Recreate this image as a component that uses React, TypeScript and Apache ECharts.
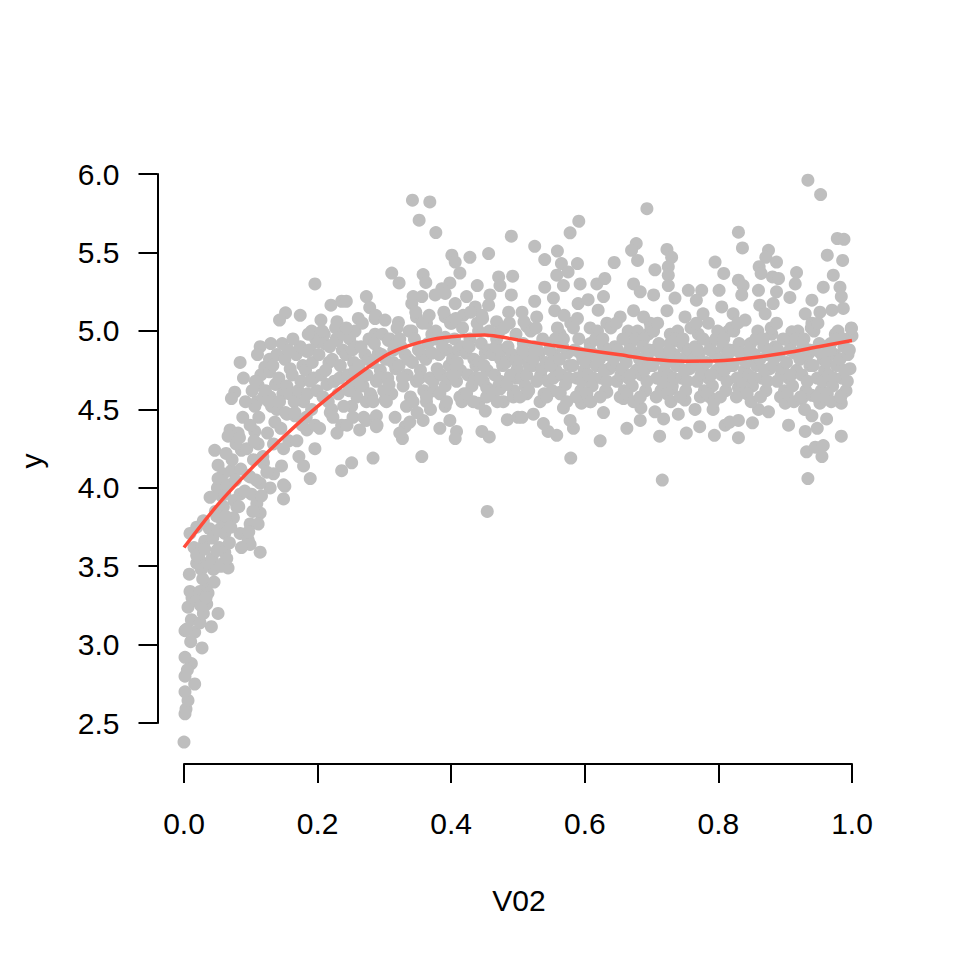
import React, { useEffect, useRef } from 'react';
import * as echarts from 'echarts';

// ---- data ----
const leftTail: number[][] = [
  [0.000,2.38],[0.0015,2.56],[0.003,2.59],[0.006,2.645],[0.0015,2.70],[0.016,2.75],[0.0015,2.80],[0.011,2.88],
  [0.0015,2.92],[0.027,2.98],[0.0015,3.09],[0.016,3.08],[0.041,3.115],[0.051,3.20],[0.006,3.24],[0.011,3.16],
  [0.024,3.14],[0.029,3.20],[0.034,3.26],[0.009,3.34],[0.024,3.34],[0.034,3.38],[0.036,3.33],[0.026,3.48],
  [0.044,3.48],[0.059,3.52],[0.066,3.49],[0.019,3.52],
  [0.004,3.10],[0.012,3.30],[0.008,3.45],[0.015,3.62],[0.018,3.28],[0.010,3.02],[0.005,2.84],
  [0.022,3.56],[0.028,3.42],[0.031,3.66],[0.036,3.52],[0.025,3.25],[0.038,3.74],[0.033,3.30],[0.027,3.62],
  [0.042,3.55],[0.047,3.85],[0.053,3.62],[0.056,3.95],[0.045,3.40],[0.058,3.78],[0.050,4.00],[0.055,3.50],[0.043,3.68],
  [0.039,3.94],[0.029,3.79],[0.019,3.75],[0.051,3.73],[0.019,3.57],[0.031,3.61],[0.049,3.60],[0.009,3.71],
  [0.046,4.24],[0.051,4.145],[0.059,4.09],[0.051,4.06],[0.059,3.88],[0.049,3.82],[0.061,3.96],[0.061,3.71],[0.061,3.59],
];

const rising: number[][] = [
  [0.084,4.80],[0.089,4.70],[0.076,4.61],[0.071,4.57],[0.111,4.655],[0.109,4.55],[0.106,4.52],[0.121,4.77],
  [0.129,4.58],[0.139,4.50],[0.154,4.47],[0.179,4.55],[0.166,4.46],[0.184,4.37],[0.196,4.25],[0.221,4.50],
  [0.229,4.35],[0.236,4.11],[0.179,4.14],[0.189,4.06],[0.149,4.25],[0.146,4.14],[0.134,4.09],[0.129,4.00],
  [0.151,4.01],[0.149,3.93],[0.069,4.37],[0.066,4.33],[0.081,4.35],[0.106,4.36],[0.111,4.28],[0.086,4.24],
  [0.071,4.11],[0.104,4.18],[0.119,4.16],[0.099,4.07],[0.114,4.03],[0.084,3.96],[0.101,3.96],[0.079,3.88],
  [0.109,3.90],[0.114,3.84],[0.074,3.81],[0.099,3.77],[0.111,3.77],[0.084,3.71],[0.096,3.67],[0.099,3.64],[0.114,3.59],
  [0.196,5.30],[0.220,5.165],[0.236,5.19],[0.152,5.116],[0.143,5.07],[0.174,5.10],[0.205,5.07],[0.229,5.06],
  [0.191,5.00],[0.210,4.98],[0.114,4.90],[0.128,4.82],[0.184,4.87],[0.199,4.93],[0.229,4.94],
  [0.273,5.22],[0.243,5.19],[0.278,5.15],[0.261,5.08],[0.286,5.08],[0.256,5.00],[0.286,4.98],
  [0.283,4.19],[0.251,4.16],[0.263,4.37],[0.253,4.45],[0.273,4.43],[0.288,4.39],[0.288,4.46],[0.281,4.58],[0.251,4.52],[0.256,4.61],
  [0.062,3.82],[0.065,4.02],[0.068,3.65],[0.072,4.18],[0.075,3.92],[0.078,4.28],[0.064,3.55],[0.070,3.75],[0.077,4.05],[0.063,4.22],
  [0.082,3.88],[0.085,4.12],[0.088,4.45],[0.091,3.98],[0.094,4.25],[0.097,3.72],[0.099,4.40],[0.086,3.62],[0.092,4.55],[0.096,4.08],[0.083,4.32],
  [0.102,4.62],[0.105,4.30],[0.108,4.05],[0.112,4.45],[0.115,4.72],[0.118,4.20],[0.103,3.85],[0.110,4.85],[0.116,3.95],[0.119,4.58],[0.107,4.68],
  [0.122,4.62],[0.125,4.35],[0.128,4.74],[0.131,4.52],[0.134,4.28],[0.137,4.66],[0.139,4.85],[0.124,4.10],[0.130,4.92],[0.136,4.42],[0.127,4.55],[0.133,4.78],
  [0.142,4.70],[0.145,4.38],[0.148,4.60],[0.151,4.82],[0.154,4.65],[0.157,4.30],[0.159,4.76],[0.143,4.55],[0.147,4.92],[0.152,4.48],[0.156,4.88],[0.149,4.02],[0.158,4.60],
  [0.162,4.72],[0.165,4.55],[0.168,4.85],[0.171,4.62],[0.174,4.90],[0.177,4.40],[0.163,4.95],[0.169,4.30],[0.175,4.68],[0.178,4.78],[0.166,4.48],[0.172,4.20],
  [0.182,4.75],[0.185,4.60],[0.188,4.88],[0.191,4.50],[0.194,4.70],[0.197,4.95],[0.199,4.62],[0.183,4.45],[0.186,4.98],[0.192,4.80],[0.196,4.40],[0.189,4.68],
  [0.202,4.85],[0.205,4.72],[0.208,4.58],[0.211,4.92],[0.214,4.66],[0.217,4.80],[0.219,4.48],[0.203,4.38],[0.207,5.00],[0.212,4.75],[0.216,4.55],[0.218,4.90],
  [0.222,4.82],[0.225,4.68],[0.228,4.95],[0.231,4.60],[0.234,4.78],[0.237,4.88],[0.239,4.52],[0.223,4.45],[0.227,5.02],[0.233,4.70],[0.236,4.40],[0.238,4.98],
  [0.242,4.85],[0.245,4.72],[0.248,4.95],[0.251,4.66],[0.254,4.80],[0.257,4.90],[0.259,4.58],[0.243,5.02],[0.247,4.62],[0.252,4.88],[0.256,4.75],[0.244,4.40],
  [0.262,4.78],[0.265,4.90],[0.268,4.65],[0.271,4.85],[0.274,4.72],[0.277,4.95],[0.279,4.60],[0.263,4.70],[0.267,5.05],[0.273,4.55],[0.276,4.82],[0.269,4.45],
  [0.282,4.80],[0.285,4.92],[0.288,4.68],[0.291,4.86],[0.294,4.75],[0.297,4.98],[0.299,4.62],[0.283,4.55],[0.287,5.10],[0.292,4.70],[0.296,4.85],[0.289,4.40],
];

const middle: number[][] = [
  [0.342,5.834],[0.368,5.823],[0.352,5.707],[0.377,5.628],[0.490,5.605],[0.401,5.484],[0.406,5.44],[0.428,5.47],
  [0.456,5.494],[0.413,5.37],[0.311,5.37],[0.322,5.307],[0.358,5.36],[0.362,5.31],[0.398,5.307],[0.386,5.27],
  [0.439,5.29],[0.471,5.345],[0.473,5.29],[0.492,5.35],[0.490,5.23],[0.343,5.22],[0.356,5.22],[0.341,5.175],
  [0.376,5.23],[0.391,5.24],[0.406,5.175],[0.423,5.22],[0.458,5.23],[0.436,5.154],[0.456,5.165],[0.418,5.10],
  [0.391,5.09],[0.401,5.05],[0.321,5.055],[0.348,5.09],[0.363,5.05],[0.446,5.10],[0.468,5.06],[0.486,5.12],
  [0.301,5.07],[0.306,4.94],[0.341,5.00],[0.371,4.98],[0.391,4.96],[0.441,5.00],[0.471,4.99],
  [0.454,3.85],[0.356,4.20],[0.327,4.315],[0.331,4.39],[0.323,4.35],[0.358,4.43],[0.383,4.38],[0.398,4.43],
  [0.408,4.36],[0.406,4.315],[0.446,4.36],[0.457,4.325],[0.484,4.435],[0.500,4.45],[0.478,4.55],[0.451,4.49],
  [0.441,4.54],[0.453,4.64],[0.473,4.63],[0.493,4.60],[0.498,4.70],[0.363,4.55],[0.391,4.52],[0.416,4.55],[0.301,4.56],
  [0.591,5.70],[0.578,5.626],[0.525,5.54],[0.559,5.51],[0.540,5.456],[0.565,5.43],[0.589,5.43],[0.558,5.356],
  [0.575,5.377],[0.568,5.29],[0.593,5.30],[0.540,5.28],[0.525,5.19],[0.506,5.12],[0.553,5.21],[0.590,5.175],
  [0.528,5.09],[0.555,5.13],[0.513,5.03],[0.563,4.98],
  [0.579,4.19],[0.558,4.335],[0.545,4.36],[0.583,4.38],[0.578,4.43],[0.568,4.51],[0.538,4.41],[0.523,4.47],
  [0.506,4.45],[0.595,4.54],[0.513,4.60],[0.563,4.61],
  [0.302,4.82],[0.305,4.70],[0.308,4.95],[0.311,4.60],[0.314,4.88],[0.317,4.76],[0.319,5.02],[0.303,4.55],[0.307,4.66],[0.313,4.80],[0.316,4.45],[0.318,4.92],
  [0.322,4.78],[0.325,4.90],[0.328,4.65],[0.331,4.85],[0.334,4.72],[0.337,5.00],[0.339,4.58],[0.323,4.95],[0.327,4.70],[0.333,4.52],[0.336,4.82],[0.338,4.42],
  [0.342,4.80],[0.345,4.95],[0.348,4.68],[0.351,4.88],[0.354,4.75],[0.357,5.05],[0.359,4.62],[0.343,4.55],[0.347,5.12],[0.353,4.70],[0.356,4.85],[0.349,4.48],
  [0.362,4.82],[0.365,4.92],[0.368,4.70],[0.371,4.86],[0.374,4.62],[0.377,5.00],[0.379,4.76],[0.363,4.58],[0.367,5.10],[0.373,4.68],[0.376,4.95],[0.369,4.50],
  [0.382,4.85],[0.385,4.72],[0.388,4.95],[0.391,4.65],[0.394,4.88],[0.397,4.78],[0.399,5.05],[0.383,4.60],[0.387,4.90],[0.393,4.55],[0.396,4.70],[0.389,5.12],
  [0.402,4.82],[0.405,4.95],[0.408,4.68],[0.411,4.88],[0.414,4.75],[0.417,5.02],[0.419,4.60],[0.403,4.72],[0.407,5.08],[0.413,4.58],[0.416,4.90],[0.409,4.80],
  [0.422,4.86],[0.425,4.72],[0.428,4.95],[0.431,4.65],[0.434,4.82],[0.437,4.78],[0.439,5.05],[0.423,4.60],[0.427,4.90],[0.433,4.55],[0.436,4.70],[0.429,5.12],
  [0.442,4.80],[0.445,4.92],[0.448,4.68],[0.451,4.86],[0.454,4.75],[0.457,5.00],[0.459,4.62],[0.443,4.70],[0.447,5.08],[0.453,4.58],[0.456,4.88],[0.449,4.78],
  [0.462,4.85],[0.465,4.72],[0.468,4.95],[0.471,4.65],[0.474,4.82],[0.477,4.78],[0.479,5.02],[0.463,4.60],[0.467,4.90],[0.473,4.68],[0.476,4.88],[0.469,4.55],
  [0.482,4.80],[0.485,4.90],[0.488,4.70],[0.491,4.85],[0.494,4.62],[0.497,4.98],[0.499,4.76],[0.483,4.66],[0.487,5.05],[0.493,4.58],[0.496,4.82],[0.489,4.72],
  [0.502,4.82],[0.505,4.70],[0.508,4.92],[0.511,4.65],[0.514,4.85],[0.517,4.78],[0.519,5.00],[0.503,4.58],[0.507,4.88],[0.513,4.72],[0.516,4.62],[0.509,5.06],
  [0.522,4.78],[0.525,4.90],[0.528,4.68],[0.531,4.85],[0.534,4.72],[0.537,4.95],[0.539,4.60],[0.523,4.82],[0.527,5.02],[0.533,4.55],[0.536,4.76],[0.529,4.88],
  [0.542,4.80],[0.545,4.68],[0.548,4.92],[0.551,4.62],[0.554,4.85],[0.557,4.75],[0.559,5.02],[0.543,4.58],[0.547,4.88],[0.553,4.70],[0.556,4.95],[0.549,4.78],
  [0.562,4.82],[0.565,4.72],[0.568,4.95],[0.571,4.66],[0.574,4.86],[0.577,4.78],[0.579,5.05],[0.563,4.60],[0.567,4.90],[0.573,4.55],[0.576,4.70],[0.569,5.10],
  [0.582,4.78],[0.585,4.88],[0.588,4.70],[0.591,4.95],[0.594,4.62],[0.597,4.82],[0.599,4.75],[0.583,5.02],[0.587,4.58],[0.593,4.86],[0.596,4.68],[0.589,5.08],
];

const right: number[][] = [
  [0.693,5.78],[0.644,5.437],[0.677,5.558],[0.670,5.515],[0.679,5.45],[0.723,5.52],[0.730,5.47],[0.705,5.39],
  [0.725,5.41],[0.618,5.30],[0.630,5.335],[0.673,5.30],[0.683,5.25],[0.725,5.356],[0.725,5.29],[0.755,5.26],
  [0.703,5.23],[0.735,5.21],[0.605,5.20],[0.628,5.22],[0.620,5.133],[0.653,5.09],[0.633,5.05],[0.673,5.13],
  [0.688,5.09],[0.698,5.05],[0.723,5.13],[0.750,5.09],[0.608,5.02],[0.623,4.94],[0.665,5.00],[0.695,4.98],[0.728,4.98],[0.743,4.93],
  [0.934,5.962],[0.953,5.87],[0.830,5.63],[0.836,5.53],[0.978,5.59],[0.988,5.585],[0.963,5.484],[0.986,5.45],
  [0.795,5.44],[0.875,5.515],[0.871,5.47],[0.887,5.44],[0.808,5.367],[0.861,5.41],[0.864,5.367],[0.881,5.345],
  [0.890,5.335],[0.917,5.373],[0.915,5.30],[0.972,5.356],[0.957,5.28],[0.982,5.28],[0.830,5.324],[0.837,5.29],
  [0.801,5.26],[0.775,5.26],[0.860,5.26],[0.887,5.25],[0.907,5.214],[0.940,5.197],[0.984,5.22],[0.835,5.23],
  [0.767,5.197],[0.805,5.154],[0.822,5.11],[0.862,5.165],[0.882,5.175],[0.870,5.11],[0.930,5.11],[0.952,5.12],
  [0.970,5.133],[0.987,5.144],[0.999,5.016],[1.0,4.97],[0.777,5.11],[0.785,5.05],[0.770,4.98],[0.840,5.07],
  [0.815,5.00],[0.880,4.98],[0.910,4.995],[0.940,5.05],[0.975,4.98],
  [0.716,4.05],[0.623,4.30],[0.663,4.38],[0.712,4.33],[0.752,4.35],[0.683,4.43],[0.684,4.51],[0.705,4.485],
  [0.718,4.44],[0.740,4.47],[0.628,4.48],[0.658,4.57],[0.608,4.55],[0.730,4.63],[0.750,4.56],[0.633,4.61],
  [0.934,4.06],[0.932,4.23],[0.945,4.26],[0.957,4.27],[0.955,4.20],[0.984,4.33],[0.930,4.36],[0.948,4.38],
  [0.905,4.40],[0.962,4.44],[0.940,4.46],[0.830,4.32],[0.794,4.335],[0.772,4.39],[0.810,4.40],[0.817,4.42],
  [0.830,4.43],[0.851,4.415],[0.792,4.50],[0.787,4.58],[0.765,4.50],[0.860,4.50],[0.875,4.485],[0.900,4.54],
  [0.925,4.57],[0.940,4.59],[0.952,4.54],[0.984,4.59],[0.984,4.54],[0.837,4.61],[0.830,4.64],
  [0.602,4.80],[0.605,4.72],[0.608,4.92],[0.611,4.65],[0.614,4.85],[0.617,4.78],[0.619,5.00],[0.603,4.60],[0.607,4.88],[0.613,4.70],[0.616,4.95],[0.609,4.55],
  [0.622,4.82],[0.625,4.70],[0.628,4.90],[0.631,4.62],[0.634,4.85],[0.637,4.76],[0.639,5.02],[0.623,4.58],[0.627,4.95],[0.633,4.68],[0.636,4.88],[0.629,4.75],
  [0.642,4.78],[0.645,4.90],[0.648,4.68],[0.651,4.85],[0.654,4.72],[0.657,4.95],[0.659,4.62],[0.643,4.82],[0.647,5.05],[0.653,4.58],[0.656,4.76],[0.649,4.88],
  [0.662,4.80],[0.665,4.70],[0.668,4.92],[0.671,4.65],[0.674,4.86],[0.677,4.75],[0.679,5.00],[0.663,4.60],[0.667,4.88],[0.673,4.55],[0.676,4.95],[0.669,4.72],
  [0.682,4.82],[0.685,4.72],[0.688,4.95],[0.691,4.62],[0.694,4.85],[0.697,4.78],[0.699,5.02],[0.683,4.58],[0.687,4.90],[0.693,4.68],[0.696,4.88],[0.689,4.75],
  [0.702,4.78],[0.705,4.88],[0.708,4.70],[0.711,4.92],[0.714,4.62],[0.717,4.82],[0.719,4.75],[0.703,5.00],[0.707,4.58],[0.713,4.86],[0.716,4.68],[0.709,5.05],
  [0.722,4.80],[0.725,4.72],[0.728,4.92],[0.731,4.65],[0.734,4.85],[0.737,4.78],[0.739,5.00],[0.723,4.60],[0.727,4.88],[0.733,4.70],[0.736,4.95],[0.729,4.55],
  [0.742,4.82],[0.745,4.70],[0.748,4.90],[0.751,4.62],[0.754,4.85],[0.757,4.76],[0.759,5.02],[0.743,4.58],[0.747,4.95],[0.753,4.68],[0.756,4.88],[0.749,4.75],
  [0.762,4.78],[0.765,4.90],[0.768,4.68],[0.771,4.85],[0.774,4.72],[0.777,4.95],[0.779,4.62],[0.763,4.82],[0.767,5.05],[0.773,4.58],[0.776,4.76],[0.769,4.88],
  [0.782,4.80],[0.785,4.70],[0.788,4.92],[0.791,4.65],[0.794,4.86],[0.797,4.75],[0.799,5.00],[0.783,4.60],[0.787,4.88],[0.793,4.55],[0.796,4.95],[0.789,4.72],
  [0.802,4.82],[0.805,4.72],[0.808,4.95],[0.811,4.62],[0.814,4.85],[0.817,4.78],[0.819,5.02],[0.803,4.58],[0.807,4.90],[0.813,4.68],[0.816,4.88],[0.809,4.75],
  [0.822,4.78],[0.825,4.88],[0.828,4.70],[0.831,4.92],[0.834,4.62],[0.837,4.82],[0.839,4.75],[0.823,5.00],[0.827,4.58],[0.833,4.86],[0.836,4.68],[0.829,5.05],
  [0.842,4.80],[0.845,4.72],[0.848,4.92],[0.851,4.65],[0.854,4.85],[0.857,4.78],[0.859,5.00],[0.843,4.60],[0.847,4.88],[0.853,4.70],[0.856,4.95],[0.849,4.55],
  [0.862,4.82],[0.865,4.70],[0.868,4.90],[0.871,4.62],[0.874,4.85],[0.877,4.76],[0.879,5.02],[0.863,4.58],[0.867,4.95],[0.873,4.68],[0.876,4.88],[0.869,4.75],
  [0.882,4.78],[0.885,4.90],[0.888,4.68],[0.891,4.85],[0.894,4.72],[0.897,4.95],[0.899,4.62],[0.883,4.82],[0.887,5.05],[0.893,4.58],[0.896,4.76],[0.889,4.88],
  [0.902,4.80],[0.905,4.70],[0.908,4.92],[0.911,4.65],[0.914,4.86],[0.917,4.75],[0.919,5.00],[0.903,4.60],[0.907,4.88],[0.913,4.55],[0.916,4.95],[0.909,4.72],
  [0.922,4.82],[0.925,4.72],[0.928,4.95],[0.931,4.62],[0.934,4.85],[0.937,4.78],[0.939,5.02],[0.923,4.58],[0.927,4.90],[0.933,4.68],[0.936,4.88],[0.929,4.50],
  [0.942,4.78],[0.945,4.88],[0.948,4.70],[0.951,4.92],[0.954,4.62],[0.957,4.82],[0.959,4.75],[0.943,5.00],[0.947,4.58],[0.953,4.86],[0.956,4.68],[0.949,5.05],
  [0.962,4.80],[0.965,4.72],[0.968,4.92],[0.971,4.65],[0.974,4.85],[0.977,4.78],[0.979,5.00],[0.963,4.60],[0.967,4.88],[0.973,4.70],[0.976,4.95],[0.969,4.55],
  [0.982,4.82],[0.985,4.70],[0.988,4.90],[0.991,4.62],[0.994,4.85],[0.997,4.76],[0.999,5.02],[0.983,4.58],[0.987,4.95],[0.993,4.68],[0.996,4.88],[0.989,4.75],
];

const curveX = [0, 0.05, 0.1, 0.15, 0.2, 0.25, 0.3, 0.325, 0.35, 0.375, 0.4, 0.425, 0.45, 0.475, 0.5, 0.55, 0.6, 0.65, 0.7, 0.75, 0.8, 0.85, 0.9, 0.95, 1.0];
const curveY = [3.62, 3.89, 4.12, 4.33, 4.52, 4.69, 4.84, 4.89, 4.925, 4.95, 4.963, 4.972, 4.975, 4.962, 4.943, 4.91, 4.88, 4.85, 4.82, 4.808, 4.81, 4.83, 4.86, 4.90, 4.94];

const xTickMin = 0, xTickMax = 1, xTickStep = 0.2;
const yTickMin = 2.5, yTickMax = 6.0, yTickStep = 0.5;
const xTitle = 'V02';
const yTitle = 'y';

export default function App() {
  const ref = useRef<HTMLDivElement>(null);
  useEffect(() => {
    if (!ref.current) return;
    const chart = echarts.init(ref.current, null, { renderer: 'svg' });
    const font = '"Liberation Sans", Arial, Helvetica, sans-serif';
    const fs = 30;
    const axisColor = '#000000';
    const points = [...leftTail, ...rising, ...middle, ...right];
    const curve = curveX.map((x, i) => [x, curveY[i]]);
    chart.setOption({
      animation: false,
      backgroundColor: '#ffffff',
      grid: [
        { left: 157.28, top: 158.5, width: 721.44, height: 605.5 },
        { left: 184, top: 158.5, width: 668, height: 605.5 },
        { left: 157.5, top: 174, width: 721, height: 549 },
      ],
      xAxis: [
        { type: 'value', gridIndex: 0, min: -0.04, max: 1.04, show: false },
        {
          type: 'value', gridIndex: 1, min: xTickMin, max: xTickMax, interval: xTickStep,
          axisLine: { show: true, onZero: false, lineStyle: { color: axisColor, width: 2 } },
          axisTick: { show: true, length: 19, lineStyle: { color: axisColor, width: 2 } },
          axisLabel: { show: true, margin: 44, color: '#000', fontSize: fs, fontFamily: font, formatter: (v: number) => v.toFixed(1) },
          splitLine: { show: false },
        },
        { type: 'value', gridIndex: 2, min: 0, max: 1, show: false },
      ],
      yAxis: [
        { type: 'value', gridIndex: 0, min: 2.24, max: 6.1, show: false },
        { type: 'value', gridIndex: 1, min: 0, max: 1, show: false },
        {
          type: 'value', gridIndex: 2, min: yTickMin, max: yTickMax, interval: yTickStep,
          axisLine: { show: true, onZero: false, lineStyle: { color: axisColor, width: 2 } },
          axisTick: { show: true, length: 19, lineStyle: { color: axisColor, width: 2 } },
          axisLabel: { show: true, margin: 38, color: '#000', fontSize: fs, fontFamily: font, formatter: (v: number) => v.toFixed(1) },
          splitLine: { show: false },
        },
      ],
      graphic: [
        { type: 'text', x: 519, y: 900, style: { text: xTitle, fill: '#000', font: `${fs}px ${font}`, align: 'center', verticalAlign: 'middle' } },
        { type: 'text', x: 31, y: 461, rotation: Math.PI / 2, style: { text: yTitle, fill: '#000', font: `${fs}px ${font}`, align: 'center', verticalAlign: 'middle' } },
      ],
      series: [
        {
          type: 'scatter', xAxisIndex: 0, yAxisIndex: 0, data: points,
          symbol: 'circle', symbolSize: 13, itemStyle: { color: '#BEBEBE', opacity: 1 },
          silent: true, z: 2,
        },
        {
          type: 'line', xAxisIndex: 0, yAxisIndex: 0, data: curve, smooth: 0.3,
          showSymbol: false, lineStyle: { color: '#FF4B3A', width: 3.5 }, silent: true, z: 3,
        },
      ],
    });
    return () => chart.dispose();
  }, []);
  return <div ref={ref} style={{ position: 'fixed', left: 0, top: 0, width: 960, height: 960 }} />;
}
